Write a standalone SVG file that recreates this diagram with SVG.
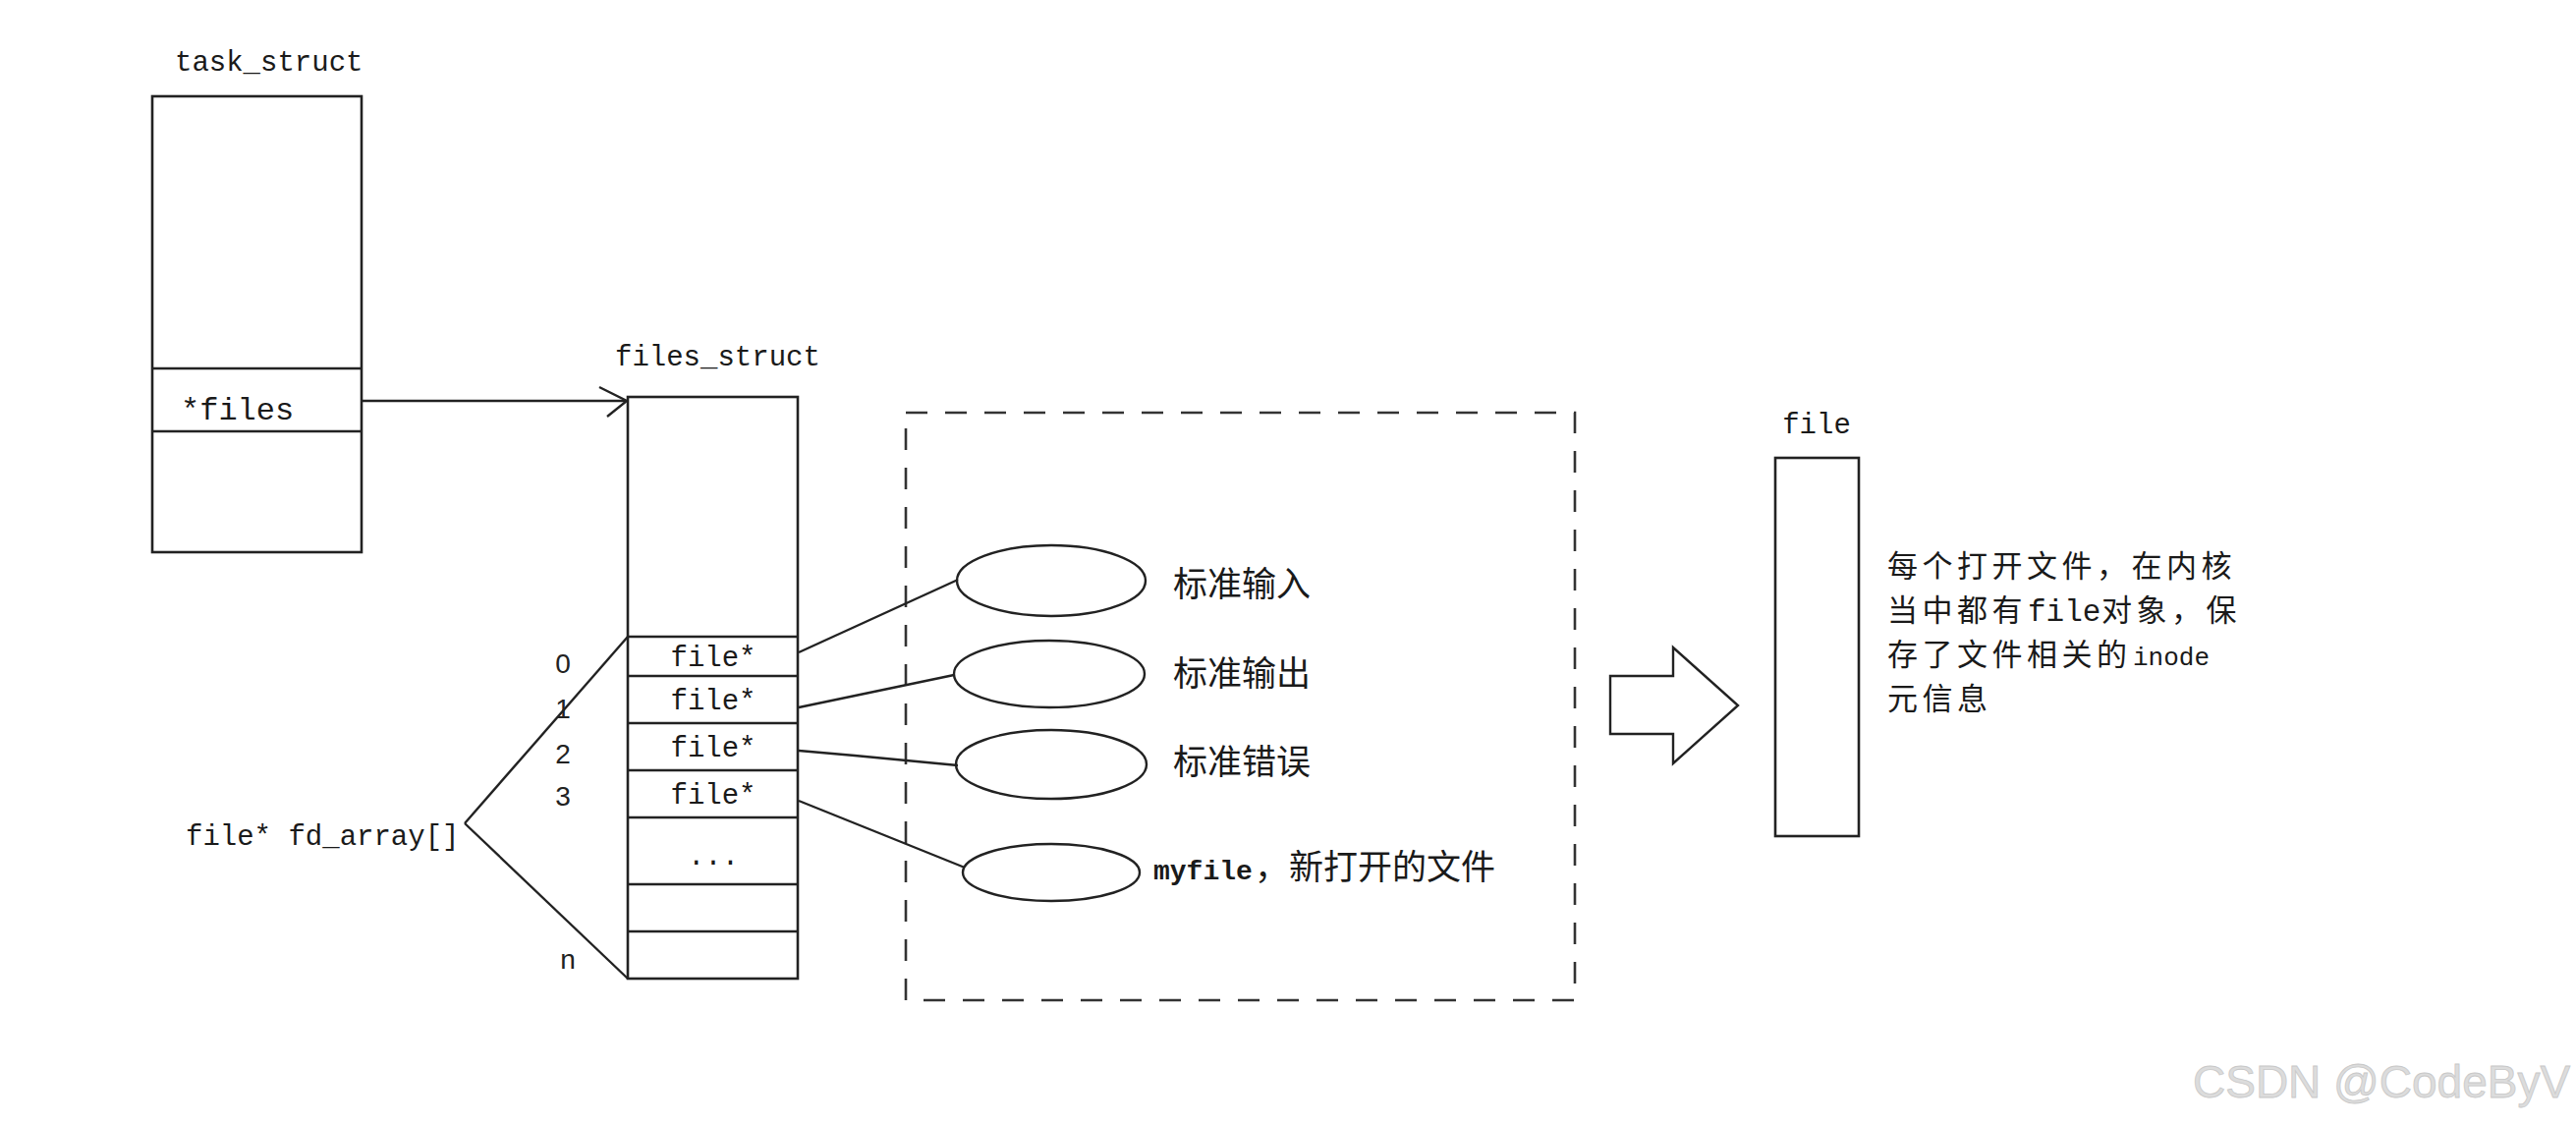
<svg xmlns="http://www.w3.org/2000/svg" width="2622" height="1144" viewBox="0 0 2622 1144">
<style>
.box{fill:#fff;stroke:#222;stroke-width:2.6}
.ln{fill:none;stroke:#222;stroke-width:2.4}
.mono{font-family:"Liberation Mono","DejaVu Sans Mono",monospace;font-size:29px;fill:#1a1a1a}
.num{font-family:"Liberation Sans",Arial,sans-serif;font-size:28px;fill:#222}
.cjk{font-family:"Noto Sans CJK SC","Liberation Sans",sans-serif;font-size:35px;fill:#1a1a1a}
.note{font-family:"Noto Sans CJK SC","Liberation Sans",sans-serif;font-size:31px;letter-spacing:4.5px;fill:#1a1a1a}
.dash{fill:none;stroke:#333;stroke-width:2.6;stroke-dasharray:22 18}
</style>
<rect width="2622" height="1144" fill="#fff"/>

<g id="task_struct">
<text class="mono" x="178" y="72">task_struct</text>
<rect class="box" x="155" y="98" width="213" height="464"/>
<line class="ln" x1="155" y1="375" x2="368" y2="375"/>
<line class="ln" x1="155" y1="439" x2="368" y2="439"/>
<text class="mono" x="184" y="427" style="font-size:32px">*files</text>
</g>

<g id="files_struct">
<text class="mono" x="626" y="372">files_struct</text>
<rect class="box" x="639" y="404" width="173" height="592"/>
<line class="ln" x1="639" y1="648" x2="812" y2="648"/>
<line class="ln" x1="639" y1="688" x2="812" y2="688"/>
<line class="ln" x1="639" y1="736" x2="812" y2="736"/>
<line class="ln" x1="639" y1="784" x2="812" y2="784"/>
<line class="ln" x1="639" y1="832" x2="812" y2="832"/>
<line class="ln" x1="639" y1="900" x2="812" y2="900"/>
<line class="ln" x1="639" y1="948" x2="812" y2="948"/>
<text class="mono" x="726" y="678" text-anchor="middle">file*</text>
<text class="mono" x="726" y="722" text-anchor="middle">file*</text>
<text class="mono" x="726" y="770" text-anchor="middle">file*</text>
<text class="mono" x="726" y="818" text-anchor="middle">file*</text>
<text class="mono" x="726" y="880" text-anchor="middle">...</text>
</g>

<g id="fd_array">
<text class="mono" x="189" y="860">file* fd_array[]</text>
<text class="num" x="573" y="685" text-anchor="middle">0</text>
<text class="num" x="573" y="731" text-anchor="middle">1</text>
<text class="num" x="573" y="777" text-anchor="middle">2</text>
<text class="num" x="573" y="820" text-anchor="middle">3</text>
<text class="num" x="578" y="986" text-anchor="middle">n</text>
</g>

<g id="open_files">
<rect class="dash" x="922" y="420" width="681" height="598"/>
<ellipse class="ln" cx="1070" cy="591" rx="96" ry="36"/>
<ellipse class="ln" cx="1068" cy="686" rx="97" ry="34"/>
<ellipse class="ln" cx="1070" cy="778" rx="97" ry="35"/>
<ellipse class="ln" cx="1070" cy="888" rx="90" ry="29"/>
<text class="cjk" x="1194" y="607">标准输入</text>
<text class="cjk" x="1194" y="698">标准输出</text>
<text class="cjk" x="1194" y="788">标准错误</text>
<text class="mono" x="1174" y="895" style="font-size:28px;font-weight:bold">myfile</text>
<text class="cjk" x="1277" y="895">，新打开的文件</text>
</g>

<g id="file">
<text class="mono" x="1849" y="441" text-anchor="middle">file</text>
<rect class="box" x="1807" y="466" width="85" height="385"/>
<text class="note" x="1921" y="587">每个打开文件，在内核</text>
<text class="note" x="1921" y="632">当中都有</text>
<text class="mono" x="2064" y="632" style="font-size:31px">file</text>
<text class="note" x="2139" y="632">对象，保</text>
<text class="note" x="1921" y="677">存了文件相关的</text>
<text class="mono" x="2171" y="677" style="font-size:26px">inode</text>
<text class="note" x="1921" y="722">元信息</text>
</g>

<g id="big_arrow">
<polygon class="ln" points="1639,688 1703,688 1703,659 1769,718 1703,777 1703,747 1639,747"/>
</g>

<g id="connectors">
<line class="ln" x1="368" y1="408" x2="637" y2="408"/>
<polyline class="ln" points="610,394 638,408 618,424"/>
<line class="ln" x1="473" y1="838" x2="639" y2="648"/>
<line class="ln" x1="473" y1="838" x2="639" y2="996"/>
<line class="ln" x1="813" y1="664" x2="975" y2="590"/>
<line class="ln" x1="813" y1="720" x2="971" y2="687"/>
<polyline class="ln" points="813,764 870,769 975,779"/>
<line class="ln" x1="813" y1="815" x2="982" y2="883"/>
</g>

<text x="2232" y="1117" style="font-family:'Liberation Sans',Arial,sans-serif;font-size:46px;fill:#dcdcdc;stroke:#c8c8c8;stroke-width:0.8">CSDN @CodeByV</text>
</svg>
